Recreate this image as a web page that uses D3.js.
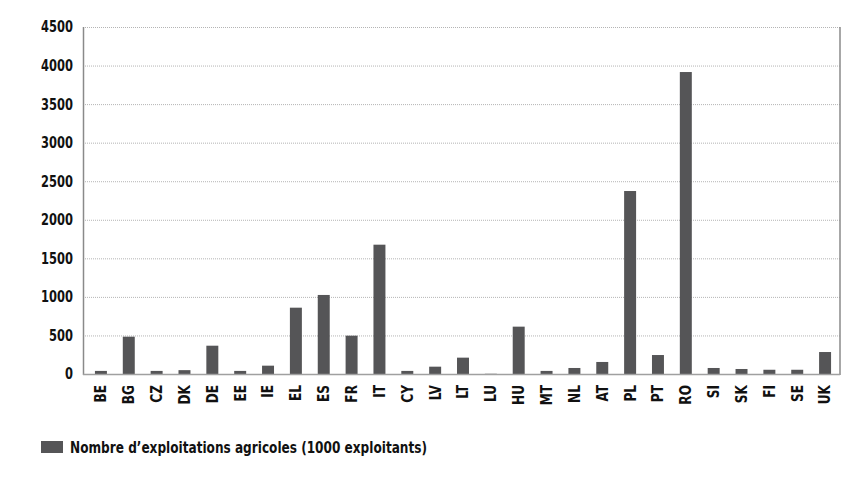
<!DOCTYPE html>
<html><head><meta charset="utf-8">
<script src="https://cdn.jsdelivr.net/npm/d3@7"></script>
<style>body{margin:0;background:#fff}</style>
</head><body><svg id="c" width="868" height="498"></svg>
<script>
const categories = ["BE","BG","CZ","DK","DE","EE","IE","EL","ES","FR","IT","CY","LV","LT","LU","HU","MT","NL","AT","PL","PT","RO","SI","SK","FI","SE","UK"];
const values = [40,484,40,50,367,40,108,860,1025,497,1677,40,95,212,3,614,40,78,156,2373,246,3916,78,65,55,55,285];
const yTicks = [0,500,1000,1500,2000,2500,3000,3500,4000,4500];
const seriesName = "Nombre d\u2019exploitations agricoles (1000 exploitants)";

(function () {
const FONT = "'DejaVu Sans Condensed', 'Liberation Sans Narrow', sans-serif";
const svg = d3.select("#c");
const pLeft = 83, pRight = 840, pTop = 27, pBottom = 374;
const x = d3.scaleBand().domain(categories).range([87, 839]).paddingInner(0.57).paddingOuter(0.285);
const y = d3.scaleLinear().domain([0, 4500]).range([pBottom, pTop]);

svg.append("g").selectAll("line").data(yTicks).join("line")
  .attr("x1", pLeft).attr("x2", pRight)
  .attr("y1", d => y(d) + 0.5).attr("y2", d => y(d) + 0.5)
  .attr("stroke", "#b4b4b4").attr("stroke-width", 1).attr("stroke-dasharray", "1,1");

svg.append("g").selectAll("rect").data(categories).join("rect")
  .attr("x", d => x(d)).attr("width", x.bandwidth())
  .attr("y", (d, i) => y(values[i])).attr("height", (d, i) => y(0) - y(values[i]))
  .attr("fill", "#555557");

svg.append("line").attr("x1", pLeft + 0.5).attr("x2", pLeft + 0.5).attr("y1", pTop).attr("y2", pBottom + 1)
  .attr("stroke", "#8a8a8a").attr("stroke-width", 1.5);
svg.append("line").attr("x1", pRight).attr("x2", pRight).attr("y1", pTop).attr("y2", pBottom + 1)
  .attr("stroke", "#8a8a8a").attr("stroke-width", 1.5);
svg.append("line").attr("x1", pLeft).attr("x2", pRight).attr("y1", pBottom + 0.5).attr("y2", pBottom + 0.5)
  .attr("stroke", "#a0a0a0").attr("stroke-width", 1.5);

svg.append("g").selectAll("text").data(yTicks).join("text")
  .attr("transform", d => `translate(73,${y(d)}) scale(0.85,1)`).attr("dy", "0.36em")
  .attr("text-anchor", "end").attr("font-family", FONT).attr("font-weight", "bold")
  .attr("font-size", 15).attr("fill", "#111").text(d => d);

svg.append("g").selectAll("text").data(categories).join("text")
  .attr("transform", d => `translate(${x(d) + x.bandwidth() / 2},385) rotate(-90) scale(0.9,1)`)
  .attr("text-anchor", "end").attr("dy", "0.36em")
  .attr("font-family", FONT).attr("font-weight", "bold").attr("font-size", 15).attr("fill", "#111")
  .text(d => d);

svg.append("rect").attr("x", 41).attr("y", 441).attr("width", 22).attr("height", 12).attr("fill", "#555557");
svg.append("text").attr("x", 70).attr("y", 453).attr("font-family", FONT).attr("font-weight", "bold")
  .attr("font-size", 15).attr("fill", "#111")
  .attr("textLength", 357).attr("lengthAdjust", "spacingAndGlyphs").text(seriesName);
})();
</script></body></html>
